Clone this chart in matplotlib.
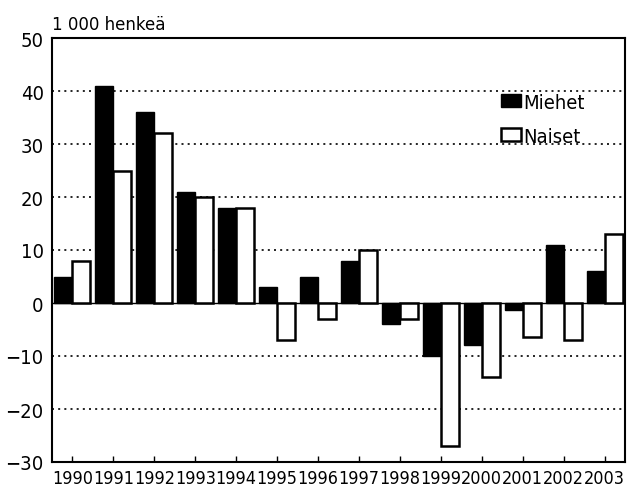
import matplotlib
matplotlib.use("Agg")
import matplotlib.pyplot as plt
import numpy as np

years = ["1990", "1991", "1992", "1993", "1994", "1995", "1996", "1997",
         "1998", "1999", "2000", "2001", "2002", "2003"]
miehet = [5, 41, 36, 21, 18, 3, 5, 8, -4, -10, -8, -1.4, 11, 6]
naiset = [8, 25, 32, 20, 18, -7, -3, 10, -3, -27, -14, -6.5, -7, 13]
yticks = [-30, -20, -10, 0, 10, 20, 30, 40, 50]

plt.rcParams['font.family'] = ['DejaVu Sans']
plt.rcParams['font.stretch'] = 'condensed'

fig = plt.figure(figsize=(6.29, 4.89), dpi=100)
ax = fig.add_axes([52/629, 26/489, 573/629, 424/489])

x = np.arange(len(years))
w = 0.44
ax.bar(x - w/2, miehet, width=w, color="black", edgecolor="black", linewidth=1.0,
       label="Miehet", zorder=3)
ax.bar(x + w/2, naiset, width=w, color="white", edgecolor="black", linewidth=1.8,
       label="Naiset", zorder=3)

ax.set_xlim(-0.5, len(years) - 0.5)
ax.set_ylim(-30, 50)
ax.set_yticks(yticks)
ax.set_yticklabels([str(v).replace("-", "\u2212") for v in yticks],
                   fontsize=14.5, fontstretch='condensed')
ax.set_xticks(x)
ax.set_xticklabels(years, fontsize=12.9, fontstretch='condensed')

for v in yticks:
    if v not in (0, 50, -30):
        ax.axhline(v, color="black", linestyle=(0, (1.2, 2.5)), linewidth=1.2, zorder=1)
ax.axhline(0, color="black", linewidth=1.0, zorder=2)

for s in ax.spines.values():
    s.set_linewidth(1.5)
    s.set_color("black")

ax.tick_params(axis="y", length=0, pad=6)
ax.tick_params(axis="x", direction="in", length=4, width=1, pad=5)

ax.text(0.0, 1.012, "1 000 henkeä", transform=ax.transAxes, fontsize=13.3,
        fontstretch='condensed', ha="left", va="bottom")

leg = ax.legend(loc="upper left", bbox_to_anchor=(0.77, 0.89), frameon=False,
                prop={'size': 14.5, 'stretch': 'condensed'},
                handlelength=1.0, handleheight=0.6, handletextpad=0.1,
                labelspacing=0.75, borderaxespad=0)

fig.savefig("out.png", dpi=100)
